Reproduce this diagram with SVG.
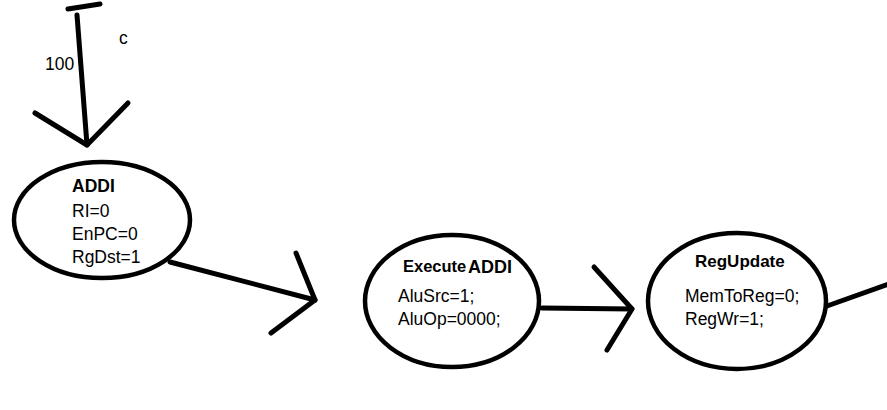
<svg xmlns="http://www.w3.org/2000/svg" width="887" height="410" viewBox="0 0 887 410">
<style>
.n{fill:#fff;stroke:#000;stroke-width:4.5}
.c{fill:none;stroke:#000;stroke-width:5;stroke-linecap:round;stroke-linejoin:round}
text{font-family:"Liberation Sans",Arial,sans-serif;font-size:17.5px;fill:#000}
.b{font-weight:bold;font-size:17px}
</style>
<rect width="887" height="410" fill="#fff"/>
<g id="connectors">
<path class="c" d="M68,9 L100,4"/>
<path class="c" d="M77,15 L87,145"/>
<path class="c" d="M35,113 L87,145 L128,103"/>
<path class="c" d="M170,262 L315,300"/>
<path class="c" d="M296,253 L315,300 L271,333"/>
<path class="c" d="M542,308 L632,309"/>
<path class="c" d="M594,267 L632,309 L607,350"/>
<path class="c" d="M827,306 L889,284"/>
<text x="45" y="70" font-size="17">100</text>
<text x="119" y="44" font-size="9" fill="#8a4a00">c</text>
</g>
<g id="addi">
<ellipse class="n" cx="102" cy="220" rx="88" ry="58"/>
<text class="b" x="72" y="192" style="font-size:17.5px">ADDI</text>
<text x="72" y="217">RI=0</text>
<text x="72" y="240">EnPC=0</text>
<text x="72" y="263">RgDst=1</text>
</g>
<g id="executeaddi">
<ellipse class="n" cx="452" cy="301" rx="87" ry="66"/>
<text class="b" x="403" y="272" style="font-size:16.5px">Execute</text>
<text class="b" x="468" y="273" style="font-size:18px">ADDI</text>
<text x="398" y="302">AluSrc=1;</text>
<text x="398" y="325">AluOp=0000;</text>
</g>
<g id="regupdate">
<ellipse class="n" cx="737" cy="301" rx="89" ry="68"/>
<text class="b" x="695" y="267">RegUpdate</text>
<text x="685" y="302">MemToReg=0;</text>
<text x="685" y="325">RegWr=1;</text>
</g>
</svg>
